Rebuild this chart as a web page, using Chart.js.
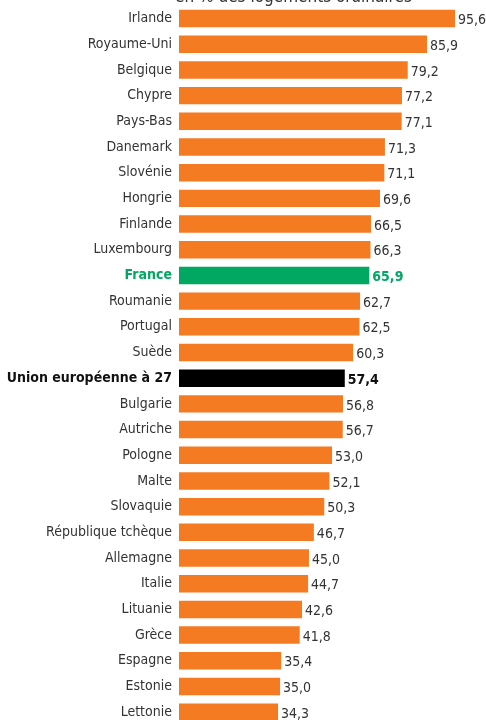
<!DOCTYPE html>
<html>
<head>
<meta charset="utf-8">
<script src="https://cdn.jsdelivr.net/npm/chart.js@4.4.1/dist/chart.umd.min.js"></script>
<style>
  html, body { margin: 0; padding: 0; background: #fff; overflow: hidden; }
  #wrap { position: relative; width: 486px; height: 725px; }
  #titre {
    position: absolute; left: 160px; top: -13px; width: 267px; text-align: center;
    font: 17px 'DejaVu Sans Condensed', sans-serif; color: #333;
    line-height: 18px; white-space: nowrap;
  }
</style>
</head>
<body>
<div id="wrap">
  <canvas id="graphique"></canvas>
  <div id="titre">en % des logements ordinaires</div>
</div>
<script>
// Données
const pays = ['Irlande', 'Royaume-Uni', 'Belgique', 'Chypre', 'Pays-Bas', 'Danemark', 'Slovénie',
  'Hongrie', 'Finlande', 'Luxembourg', 'France', 'Roumanie', 'Portugal', 'Suède',
  'Union européenne à 27', 'Bulgarie', 'Autriche', 'Pologne', 'Malte', 'Slovaquie',
  'République tchèque', 'Allemagne', 'Italie', 'Lituanie', 'Grèce', 'Espagne', 'Estonie', 'Lettonie'];
const valeurs = [95.6, 85.9, 79.2, 77.2, 77.1, 71.3, 71.1, 69.6, 66.5, 66.3, 65.9, 62.7, 62.5, 60.3,
  57.4, 56.8, 56.7, 53.0, 52.1, 50.3, 46.7, 45.0, 44.7, 42.6, 41.8, 35.4, 35.0, 34.3];

const FR = 'France';
const UE = 'Union européenne à 27';
const POLICE = "'DejaVu Sans Condensed', sans-serif";
const ORANGE = '#f47b22';
const VERT = '#00a862';

const couleurBarre = p => p === FR ? VERT : (p === UE ? '#000' : ORANGE);
const couleurTexte = p => p === FR ? VERT : (p === UE ? '#111' : '#333');
const gras = p => (p === FR || p === UE) ? 'bold' : 'normal';

// Étiquettes de valeur
const etiquettes = {
  id: 'etiquettes',
  afterDatasetsDraw(chart) {
    const ctx = chart.ctx;
    const meta = chart.getDatasetMeta(0);
    ctx.save();
    ctx.textBaseline = 'middle';
    ctx.textAlign = 'left';
    meta.data.forEach((bar, i) => {
      const p = pays[i];
      ctx.font = `${gras(p)} 14px ${POLICE}`;
      ctx.fillStyle = couleurTexte(p);
      ctx.fillText(valeurs[i].toFixed(1).replace('.', ','), bar.x + 3, bar.y + 2);
    });
    ctx.restore();
  }
};

new Chart(document.getElementById('graphique'), {
  type: 'bar',
  data: {
    labels: pays,
    datasets: [{
      data: valeurs,
      backgroundColor: pays.map(couleurBarre),
      categoryPercentage: 1,
      barPercentage: 0.68
    }]
  },
  options: {
    indexAxis: 'y',
    responsive: true,
    maintainAspectRatio: false,
    animation: false,
    layout: { padding: { top: 5.7, right: 0, bottom: 0, left: 0 } },
    plugins: { legend: { display: false }, tooltip: { enabled: false }, title: { display: false } },
    scales: {
      x: { display: false, min: 0, max: 106.3 },
      y: {
        grid: { display: false, drawTicks: false },
        border: { display: false },
        afterFit(axis) { axis.width = 179; axis.paddingTop = 0; axis.paddingBottom = 0; },
        ticks: {
          padding: 7,
          autoSkip: false,
          color: ctx => couleurTexte(pays[ctx.index]),
          font: ctx => ({ family: POLICE, size: 14, weight: gras(pays[ctx.index]) })
        }
      }
    }
  },
  plugins: [etiquettes]
});
</script>
</body>
</html>
